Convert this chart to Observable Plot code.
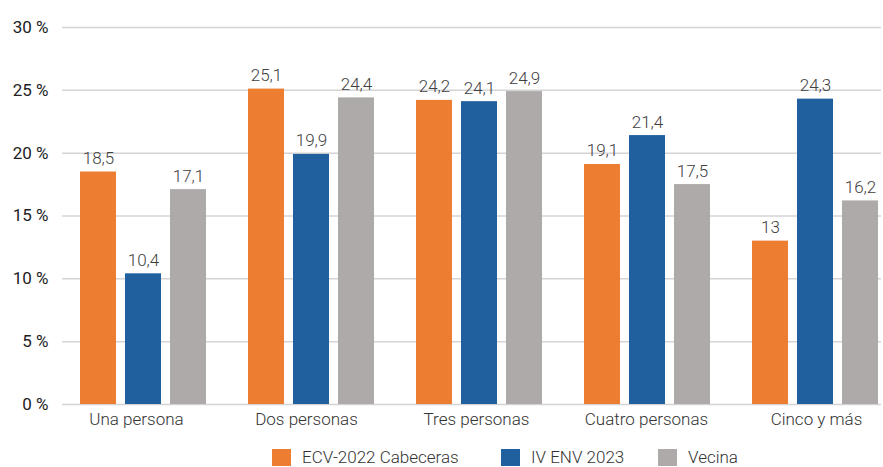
<!DOCTYPE html>
<html>
<head>
<meta charset="utf-8">
<script src="https://cdn.jsdelivr.net/npm/d3@7"></script>
<script src="https://cdn.jsdelivr.net/npm/@observablehq/plot@0.6"></script>
<style>
  html, body { margin: 0; padding: 0; background: #fff; overflow: hidden; }
  body { width: 883px; height: 467px; font-family: Roboto, sans-serif; position: relative; }
  #chart { position: absolute; left: 0; top: 0; width: 883px; height: 436px; }
  #chart svg { position: absolute; left: 0; top: 0; }
  #legend { position: absolute; top: 449px; left: 0; font-family: Roboto, sans-serif; font-weight: 300; font-size: 17px; line-height: 17px; color: #333; }
  .item { position: absolute; display: flex; align-items: center; white-space: nowrap; }
  .sw { width: 19px; height: 17px; margin-right: 11px; display: inline-block; }
</style>
</head>
<body>
<div id="chart"></div>
<div id="legend"></div>
<script>
const categories = ["Una persona", "Dos personas", "Tres personas", "Cuatro personas", "Cinco y más"];
const seriesNames = ["ECV-2022 Cabeceras", "IV ENV 2023", "Vecina"];
const ecv2022 = [18.5, 25.1, 24.2, 19.1, 13];
const ivEnv2023 = [10.4, 19.9, 24.1, 21.4, 24.3];
const vecina = [17.1, 24.4, 24.9, 17.5, 16.2];
const yTicks = [0, 5, 10, 15, 20, 25, 30];
const colors = ["#ED7D31", "#21609E", "#AEAAAA"];

const seriesValues = [ecv2022, ivEnv2023, vecina];
const data = [];
categories.forEach((c, i) => {
  seriesNames.forEach((s, j) => data.push({category: c, series: s, value: seriesValues[j][i]}));
});
const fmt = v => String(v).replace(".", ",");

const common = {
  width: 883,
  height: 436,
  marginLeft: 62,
  marginRight: 2,
  marginTop: 27,
  marginBottom: 32,
  y: {domain: [0, 30], axis: null}
};

// Background: gridlines, y tick labels and category labels
const bg = Plot.plot({
  ...common,
  style: {fontFamily: "Roboto, sans-serif", fontSize: "17px", color: "#222", background: "#fff", overflow: "visible"},
  x: {type: "point", domain: categories, range: [134, 817], padding: 0, axis: null},
  marks: [
    Plot.ruleY(yTicks, {y: d => d, stroke: "#d4d4d4", strokeWidth: 1.5}),
    Plot.axisY({ticks: yTicks, tickFormat: d => d + " %", tickSize: 0, tickPadding: 14, fontSize: 17, fill: "#222", label: null}),
    Plot.axisX({anchor: "bottom", tickSize: 0, tickPadding: 8, label: null, fontSize: 17, fontWeight: 300, fill: "#333"})
  ]
});

// Foreground: grouped bars
const fg = Plot.plot({
  ...common,
  style: {fontFamily: "Roboto, sans-serif", fontSize: "17px", color: "#333", background: "transparent", overflow: "visible"},
  fx: {domain: categories, range: [79, 880], paddingInner: 0.246, paddingOuter: 0, label: null, axis: null},
  x: {domain: seriesNames, paddingInner: 0.19, paddingOuter: 0, axis: null},
  color: {domain: seriesNames, range: colors},
  marks: [
    Plot.barY(data, {fx: "category", x: "series", y: "value", fill: "series"}),
    Plot.text(data, {fx: "category", x: "series", y: "value", text: d => fmt(d.value), lineAnchor: "bottom", dy: -8, fill: "#404040", fontSize: 17, fontWeight: 300})
  ]
});
document.getElementById("chart").appendChild(bg);
document.getElementById("chart").appendChild(fg);

const legend = document.getElementById("legend");
const lx = [272, 501, 658];
seriesNames.forEach((s, i) => {
  const it = document.createElement("div");
  it.className = "item";
  it.style.left = lx[i] + "px";
  it.innerHTML = `<span class="sw" style="background:${colors[i]}"></span><span>${s}</span>`;
  legend.appendChild(it);
});
</script>
</body>
</html>
